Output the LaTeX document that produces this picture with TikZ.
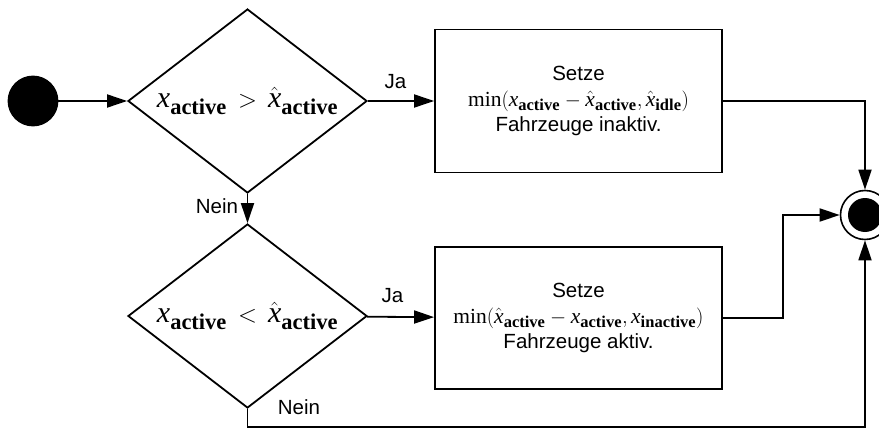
\documentclass[tikz,border=0pt]{standalone}
\usepackage{fontspec}
\setmainfont{Liberation Serif}
\setsansfont{Liberation Sans}
\usetikzlibrary{arrows.meta}
\usetikzlibrary{shapes.geometric}

\DeclareMathSizes{21.5}{21.5}{16.5}{13}
\DeclareMathSizes{30}{30}{22.5}{18}
\newcommand{\xv}{\mathit{x}}
\newcommand{\act}{\mathbf{active}}

\begin{document}
\begin{tikzpicture}[x=1pt,y=-1pt,line width=1.8pt]
	\useasboundingbox (0,0) rectangle (879,428);

	\begin{scope}[every node/.style={draw,font=\sffamily\fontsize{20.5}{25.6}\selectfont}]
		\node[circle,fill,minimum size=49pt] (start) at (33,101) {};
		\node[diamond,aspect=1.3,inner sep=0pt,minimum width=239pt,minimum height=184pt,font=\fontsize{30}{36}\selectfont] (gt) at (247.5,101) {$\xv_{\act} \,>\, \hat{\xv}_{\act}$};
		\node[diamond,aspect=1.3,inner sep=0pt,minimum width=239pt,minimum height=184pt,font=\fontsize{30}{36}\selectfont] (lt) at (247.5,316) {$\xv_{\act} \,<\, \hat{\xv}_{\act}$};
		\node[rectangle,align=center,minimum width=287pt,minimum height=143pt] (setoff) at (578.5,101) {Setze\\\fontsize{21.5}{25.6}\selectfont$\min(\xv_{\act} - \hat{\xv}_{\act}, \hat{\xv}_{\mathbf{idle}})$\\Fahrzeuge inaktiv.};
		\node[rectangle,align=center,minimum width=287pt,minimum height=142pt] (seton) at (578.5,318) {Setze\\\fontsize{21.5}{25.6}\selectfont$\min(\hat{\xv}_{\act} - \xv_{\act}, \xv_{\mathbf{inactive}})$\\Fahrzeuge aktiv.};
		\node[circle,line width=1.6pt,minimum size=49pt,
		      path picture={\fill (path picture bounding box.center) circle (17pt);}] (stop) at (865,215) {};
	\end{scope}

	\begin{scope}[every node/.style={font=\sffamily\fontsize{20.5}{25.6}\selectfont,inner sep=0pt}]
		\node (ja1) at (395.5,82) {Ja};
		\node (ja2) at (392.5,296) {Ja};
		\node (nein1) at (217,206.5) {Nein};
		\node (nein2) at (299,407.5) {Nein};
	\end{scope}

	\begin{scope}[>={Triangle[length=20pt,width=13pt]}]
		\draw[->] (start) -- (gt);
		\draw[->] (gt) -- (setoff);
		\draw[->] (gt) -- (lt);
		\draw[->] (lt) -- (seton);
		\draw[->] (setoff) -| (stop);
		\draw[->] (seton.east) -- ++(60,0) |- (stop);
		\draw[->] (lt.south) -- ++(0,18) -| (stop);
	\end{scope}
\end{tikzpicture}
\end{document}
